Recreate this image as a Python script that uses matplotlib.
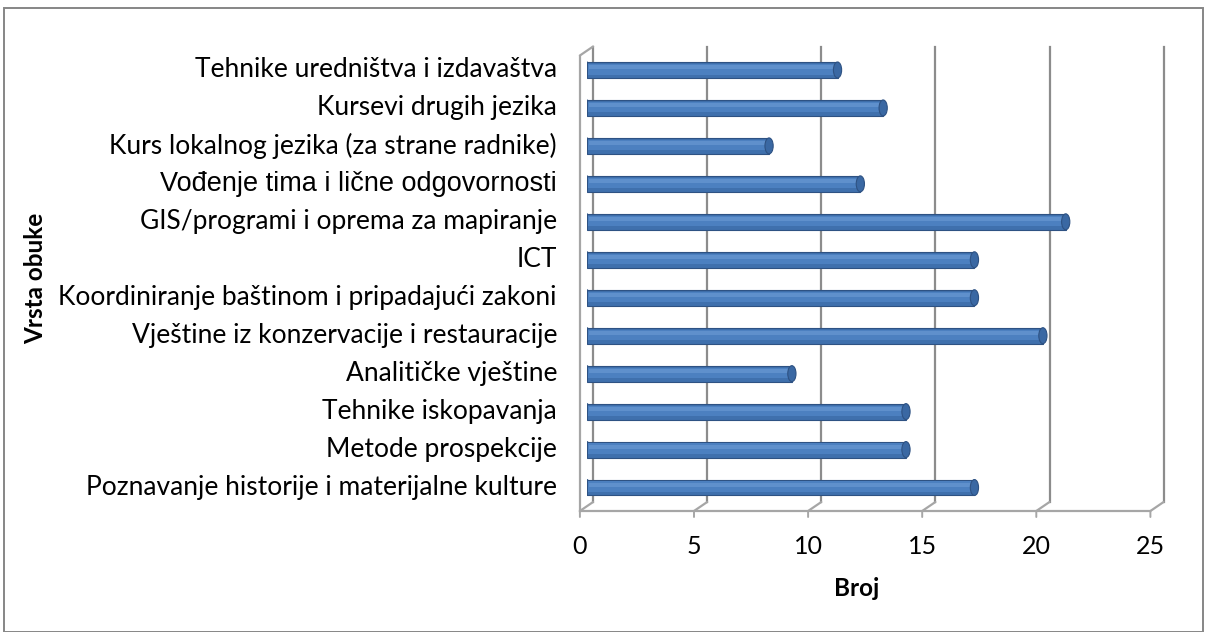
import matplotlib
matplotlib.use("Agg")
import matplotlib.pyplot as plt
from matplotlib.transforms import offset_copy
from matplotlib.patches import Rectangle, Ellipse

# categories, bottom to top
categories = [
    "Poznavanje historije i materijalne kulture",
    "Metode prospekcije",
    "Tehnike iskopavanja",
    "Analitičke vještine",
    "Vještine iz konzervacije i restauracije",
    "Koordiniranje baštinom i pripadajući zakoni",
    "ICT",
    "GIS/programi i oprema za mapiranje",
    "Vođenje tima i lične odgovornosti",
    "Kurs lokalnog jezika (za strane radnike)",
    "Kursevi drugih jezika",
    "Tehnike uredništva i izdavaštva",
]
counts = [17, 14, 14, 9, 20, 17, 17, 21, 12, 8, 13, 11]
xticks = [0, 5, 10, 15, 20, 25]

W, H = 1206, 632
fig = plt.figure(figsize=(W / 100, H / 100), dpi=100)
fig.patch.set_facecolor("white")

# outer chart border
fig.add_artist(Rectangle((4 / W, 0.5 / H), 1198.5 / W, (H - 8.5) / H, transform=fig.transFigure,
                         fill=False, edgecolor="#868686", lw=1.4))

# axes = middle depth plane of the 3d box
left, right, bottom, top = 586.5, 1157, 506.5, 51
ax = fig.add_axes([left / W, 1 - bottom / H, (right - left) / W, (bottom - top) / H])
ax.set_xlim(0, 25)
ax.set_ylim(-0.5, len(categories) - 0.5)
ax.axis("off")

dx, dy = 6.6, 4.5
front = offset_copy(ax.transData, fig=fig, x=-dx, y=-dy, units="dots")
back = offset_copy(ax.transData, fig=fig, x=dx, y=dy, units="dots")
grid_c = "#8C8C8C"
ytop = len(categories) - 0.5

# back wall gridlines
for v in xticks:
    ax.plot([v, v], [-0.5, ytop], color=grid_c, lw=1.6, transform=back, clip_on=False)
# front left wall edge and top diagonal
ax.plot([0, 0], [-0.5, ytop], color="#A6A6A6", lw=1.6, transform=front, clip_on=False)
ax.annotate("", xy=(0, ytop), xycoords=back, xytext=(0, ytop), textcoords=front,
            arrowprops=dict(arrowstyle="-", color="#A6A6A6", lw=1.6, shrinkA=0, shrinkB=0))
# floor
ax.plot([0, 25], [-0.5, -0.5], color="#A6A6A6", lw=1.6, transform=front, clip_on=False)
for v in xticks:
    ax.annotate("", xy=(v, -0.5), xycoords=back, xytext=(v, -0.5), textcoords=front,
                arrowprops=dict(arrowstyle="-", color="#A6A6A6", lw=1.6, shrinkA=0, shrinkB=0))
    ax.annotate("", xy=(v, -0.5), xycoords=front, xytext=(0, -6), textcoords="offset pixels",
                arrowprops=dict(arrowstyle="-", color="#A6A6A6", lw=1.4, shrinkA=0, shrinkB=0))
    ax.annotate(str(v), xy=(v, -0.5), xycoords=front, xytext=(0, -36), textcoords="offset pixels",
                ha="center", va="center", fontsize=18, family="Lato", color="#000000")

# cylinder-like bars
ypos = list(range(len(categories)))
bh = 0.42
ax.barh(ypos, counts, height=bh, color="#3F70AD", edgecolor="#2E5283", lw=0.8, zorder=3)
ax.barh([y + 0.02 for y in ypos], [c - 0.12 for c in counts], left=0.06, height=0.28,
        color="#4C80C0", lw=0, zorder=4)
ax.barh([y + 0.07 for y in ypos], [c - 0.25 for c in counts], left=0.12, height=0.1,
        color="#5F90CC", lw=0, zorder=5)
for y, c in zip(ypos, counts):
    ax.add_patch(Ellipse((c, y), 0.36, bh, facecolor="#3A68A3", edgecolor="#2E5283",
                         lw=0.8, zorder=6))
    ax.add_patch(Ellipse((0, y), 0.36, bh, facecolor="#4C80C0", edgecolor="#2E5283",
                         lw=0.8, zorder=2))

# category labels
for y, lab in zip(ypos, categories):
    if lab.startswith("Vođenje"):
        fam, fs = "Liberation Sans", 19.5
    else:
        fam, fs = "Lato", 19
    ax.annotate(lab, xy=(0, y), xycoords="data", xytext=(557 - left, 0), textcoords="offset pixels",
                ha="right", va="center", fontsize=fs, family=fam, color="#000000")

fig.text(857 / W, 1 - 588 / H, "Broj", ha="center", va="center", fontsize=17.5,
         fontweight="bold", family="Lato")
fig.text(36 / W, 1 - 278 / H, "Vrsta obuke", ha="center", va="center", rotation=90,
         fontsize=17.5, fontweight="bold", family="Lato")

fig.savefig("out.png", dpi=100, facecolor="white")
